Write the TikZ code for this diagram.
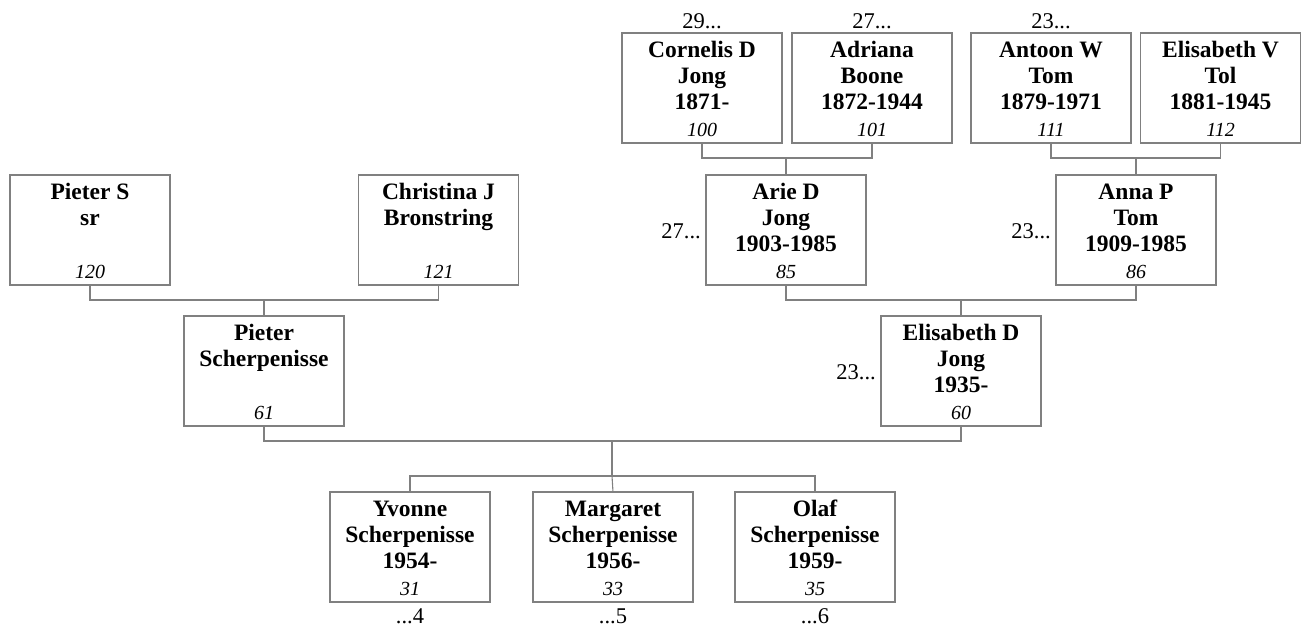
\documentclass[tikz,border=0pt]{standalone}
\usepackage{fontspec}
\setmainfont{Liberation Serif}
\definecolor{ln}{RGB}{128,128,128}
\tikzset{
 pbox/.style={draw=ln, line width=1.1pt, minimum width=160pt, minimum height=110pt, inner sep=0pt, outer sep=0pt, anchor=north},
 nm/.style={font=\fontsize{23.5}{26}\selectfont\bfseries, anchor=base, inner sep=0pt},
 num/.style={font=\fontsize{20}{22}\selectfont\itshape, anchor=base, inner sep=0pt},
 lbl/.style={font=\fontsize{22.5}{25}\selectfont, inner sep=0pt},
 link/.style={draw=ln, line width=1.1pt},
}
\newcommand\person[7]{%
 \node[pbox] (#1) at (#2,#3) {};
 \node[nm] (#1a) at ([yshift=-24pt]#1.north) {#4};
 \node[nm] (#1b) at ([yshift=-50.3pt]#1.north) {#5};
 \node[nm] (#1c) at ([yshift=-76.7pt]#1.north) {#6};
 \node[num] (#1d) at ([yshift=-103.5pt]#1.north) {#7};
}
\begin{document}
\begin{tikzpicture}[x=1pt,y=-1pt]
\useasboundingbox (0,0) rectangle (1306,627);
% generation 1
\person{p100}{702}{33}{Cornelis D}{Jong}{1871-}{100}
\person{p101}{872}{33}{Adriana}{Boone}{1872-1944}{101}
\person{p111}{1051}{33}{Antoon W}{Tom}{1879-1971}{111}
\person{p112}{1220.5}{33}{Elisabeth V}{Tol}{1881-1945}{112}
% generation 2
\person{p120}{90}{175}{Pieter S}{sr}{}{120}
\person{p121}{438.5}{175}{Christina J}{Bronstring}{}{121}
\person{p85}{786}{175}{Arie D}{Jong}{1903-1985}{85}
\person{p86}{1136}{175}{Anna P}{Tom}{1909-1985}{86}
% generation 3
\person{p61}{264}{316}{Pieter}{Scherpenisse}{}{61}
\person{p60}{961}{316}{Elisabeth D}{Jong}{1935-}{60}
% children
\person{p31}{410}{492}{Yvonne}{Scherpenisse}{1954-}{31}
\person{p33}{613}{492}{Margaret}{Scherpenisse}{1956-}{33}
\person{p35}{815}{492}{Olaf}{Scherpenisse}{1959-}{35}
% outside labels
\node[lbl, anchor=base] (t100) at ([yshift=5pt]p100.north) {29...};
\node[lbl, anchor=base] (t101) at ([yshift=5pt]p101.north) {27...};
\node[lbl, anchor=base] (t111) at ([yshift=5pt]p111.north) {23...};
\node[lbl, anchor=base east] (t85) at ([xshift=-5pt,yshift=-63pt]p85.north west) {27...};
\node[lbl, anchor=base east] (t86) at ([xshift=-5pt,yshift=-63pt]p86.north west) {23...};
\node[lbl, anchor=base east] (t60) at ([xshift=-5pt,yshift=-63pt]p60.north west) {23...};
\node[lbl, anchor=base] (b31) at ([yshift=-21pt]p31.south) {...4};
\node[lbl, anchor=base] (b33) at ([yshift=-21pt]p33.south) {...5};
\node[lbl, anchor=base] (b35) at ([yshift=-21pt]p35.south) {...6};
% junction points
\coordinate (c1) at (786,158);
\coordinate (c2) at (1136,158);
\coordinate (c3) at (264,300);
\coordinate (c4) at (961,300);
\coordinate (c5) at (612,441);
\coordinate (c6) at (612,476);
% connectors
\draw[link] (p100.south) |- (c1) -| (p101.south);
\draw[link] (c1) -- (p85.north);
\draw[link] (p111.south) |- (c2) -| (p112.south);
\draw[link] (c2) -- (p86.north);
\draw[link] (p120.south) |- (c3) -| (p121.south);
\draw[link] (c3) -- (p61.north);
\draw[link] (p85.south) |- (c4) -| (p86.south);
\draw[link] (c4) -- (p60.north);
\draw[link] (p61.south) |- (c5) -| (p60.south);
\draw[link] (c5) -- (c6);
\draw[link] (p31.north) |- (c6) -| (p35.north);
\draw[link] (c6) -- (p33.north);
\end{tikzpicture}
\end{document}
